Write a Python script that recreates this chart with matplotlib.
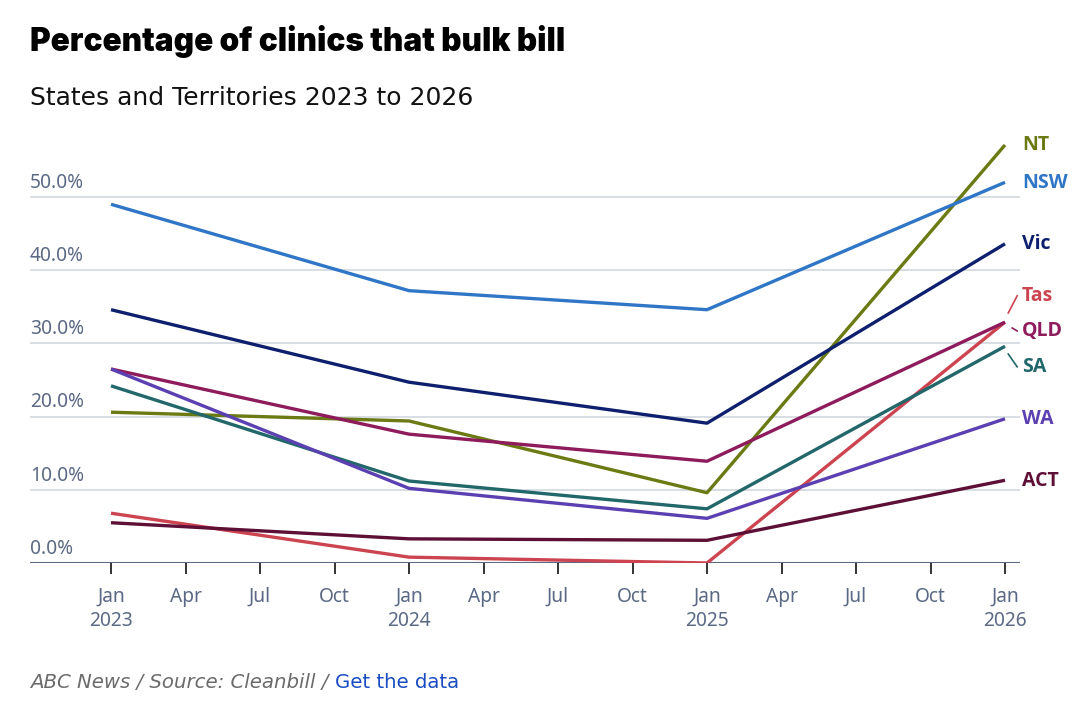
import matplotlib
matplotlib.use("Agg")
import matplotlib.pyplot as plt
import matplotlib.transforms as mtransforms

# ---- data ----
months = [0, 12, 24, 36]  # months since Jan 2023
states = ["NT", "NSW", "Vic", "Tas", "QLD", "SA", "WA", "ACT"]
nt = [20.6, 19.4, 9.6, 57.1]
nsw = [49.0, 37.2, 34.6, 52.0]
vic = [34.6, 24.7, 19.1, 43.6]
tas = [6.8, 0.8, 0.0, 32.9]
qld = [26.5, 17.6, 13.9, 32.9]
sa = [24.2, 11.2, 7.4, 29.6]
wa = [26.5, 10.2, 6.1, 19.7]
act = [5.5, 3.3, 3.1, 11.3]
series = [nt, nsw, vic, tas, qld, sa, wa, act]
colors = ["#6b7a12", "#2f76c6", "#0e1f6d", "#cd4451", "#8e1b5b", "#22676a", "#5b40b2", "#5d0f36"]
# label positions (data y) for right-side labels
label_y = [57.1, 51.9, 43.6, 36.5, 31.7, 26.8, 19.7, 11.2]

xtick_pos = list(range(0, 37, 3))
xtick_labels = ["Jan\n2023", "Apr", "Jul", "Oct", "Jan\n2024", "Apr", "Jul", "Oct",
                "Jan\n2025", "Apr", "Jul", "Oct", "Jan\n2026"]
yticks = [0, 10, 20, 30, 40, 50]
ytick_labels = ["0.0%", "10.0%", "20.0%", "30.0%", "40.0%", "50.0%"]

W, H = 1080, 710
fig = plt.figure(figsize=(W / 100, H / 100), dpi=100)
fig.patch.set_facecolor("white")

body = "Noto Sans"
ax_left, ax_right = 30, 1020
ax_bottom, ax_top = 563, 138.4
ax = fig.add_axes([ax_left / W, 1 - ax_bottom / H, (ax_right - ax_left) / W, (ax_bottom - ax_top) / H])
ppm = (1005 - 111) / 36.0
ax.set_xlim(-(111 - ax_left) / ppm, 36 + (ax_right - 1005) / ppm)
ax.set_ylim(0, 58)

slate = "#5b6985"
for v in yticks[1:]:
    ax.axhline(v, color="#d5dae2", lw=1.3, zorder=1)
ax.axhline(0, color="#5b6985", lw=1.5, zorder=1)

for vals, c in zip(series, colors):
    ax.plot(months, vals, color=c, lw=2.4, solid_capstyle="butt", zorder=3)

for sp in ax.spines.values():
    sp.set_visible(False)
ax.set_yticks([])
ax.set_xticks(xtick_pos)
ax.set_xticklabels(xtick_labels, fontsize=13.8, color=slate, family=body, linespacing=1.3)
ax.tick_params(axis="x", length=8, width=1.4, color="#333333", pad=9)

trans = mtransforms.blended_transform_factory(ax.transAxes, ax.transData)
off = mtransforms.offset_copy(trans, fig=fig, y=3, units="points")
for v, lab in zip(yticks, ytick_labels):
    ax.text(0, v, lab, transform=off, ha="left", va="bottom", fontsize=13.8, color=slate, family=body)

# right-side labels
for name, vals, c, ly in zip(states, series, colors, label_y):
    ax.text(36.68, ly, name, color=c, fontsize=14, fontweight="bold", family="Open Sans",
            va="center", ha="left", clip_on=False)
# leader lines for crowded labels
ax.plot([36.13, 36.49], [34.15, 36.5], color=colors[3], lw=1.2, clip_on=False)
ax.plot([36.29, 36.49], [32.1, 31.7], color=colors[4], lw=1.2, clip_on=False)
ax.plot([36.13, 36.49], [28.55, 26.8], color=colors[5], lw=1.2, clip_on=False)

fig.text(30 / W, 1 - 42 / H, "Percentage of clinics that bulk bill", fontsize=22.7,
         fontweight="black", family="Inter", va="center", ha="left", color="black")
fig.text(30 / W, 1 - 98 / H, "States and Territories 2023 to 2026", fontsize=18,
         family="DejaVu Sans", va="center", ha="left", color="#111111")

t1 = fig.text(30 / W, 1 - 682 / H, "ABC News / Source: Cleanbill / ", fontsize=14.2,
              style="italic", family="DejaVu Sans", color="#6b6b6b", va="center", ha="left")
fig.canvas.draw()
bb = t1.get_window_extent()
fig.text(bb.x1 / W, 1 - 682 / H, "Get the data", fontsize=14.2, family="DejaVu Sans",
         color="#1a4cc2", va="center", ha="left")

fig.savefig("out.png", dpi=100, facecolor="white")
